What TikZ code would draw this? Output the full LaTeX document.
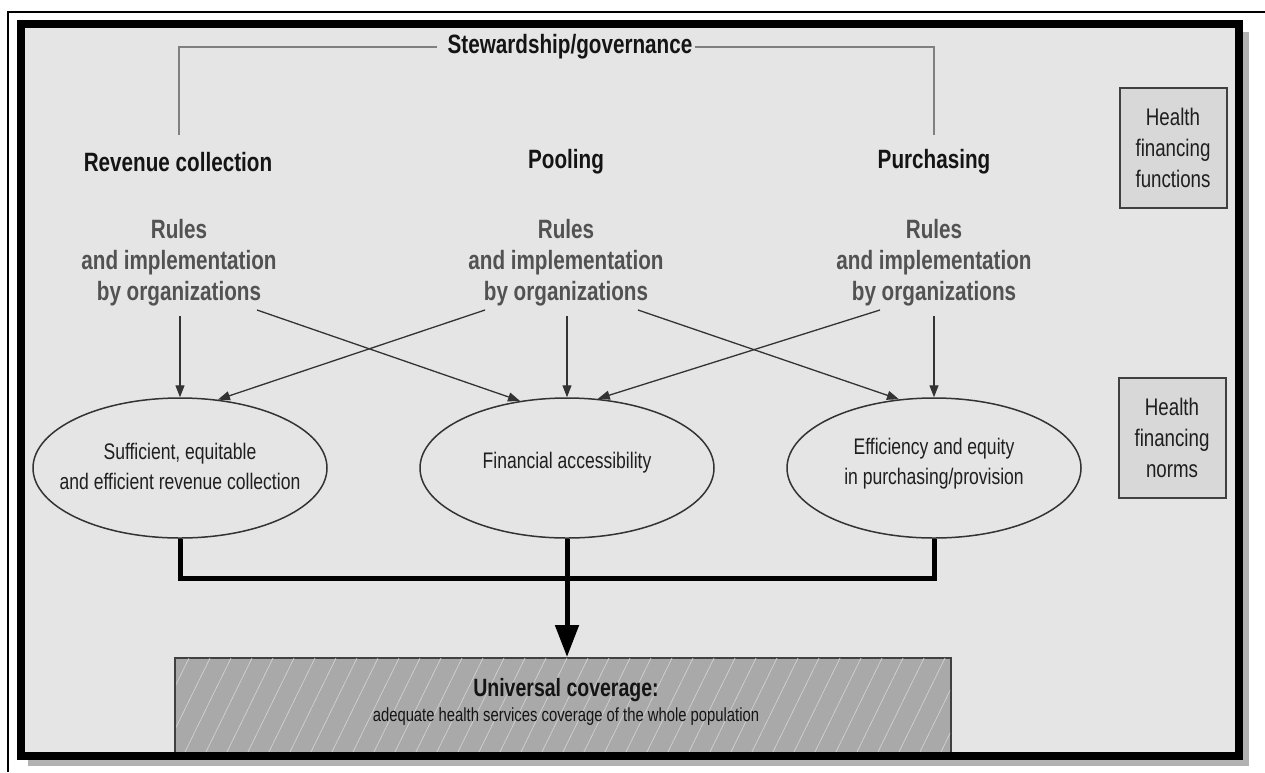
\documentclass[tikz,border=0pt]{standalone}
\usepackage{fontspec}
\setmainfont{Liberation Sans}[FakeStretch=0.78]
\usetikzlibrary{shapes.geometric,arrows.meta}
\definecolor{bgc}{HTML}{E5E5E5}
\definecolor{boxc}{HTML}{D8D8D8}
\definecolor{ucc}{HTML}{A9A9A9}
\tikzset{
  head/.style={font=\fontsize{26.5}{31}\selectfont\bfseries, text=black!92, inner sep=2pt},
  rules/.style={font=\fontsize{26.5}{31}\selectfont\bfseries, text=black!68, align=center},
  oval/.style={ellipse, draw=black!80, line width=1.5pt, minimum width=294pt, minimum height=140pt, inner sep=0pt},
  otext/.style={font=\fontsize{22.5}{30}\selectfont, align=center, text=black!88},
  side/.style={draw=black!75, line width=2pt, fill=boxc, minimum width=107pt, minimum height=120pt, align=center, font=\fontsize{24}{31}\selectfont, text=black!88, inner sep=0pt},
  thinarrow/.style={draw=black!80, line width=1.3pt, -{Triangle[length=12pt,width=9pt]}},
  thickline/.style={draw=black, line width=5pt},
  stewline/.style={draw=black!50, line width=2.5pt},
  ucbox/.style={draw=black!75, line width=2pt, fill=ucc, minimum width=776pt, minimum height=100pt, inner sep=0pt}
}
\begin{document}
\begin{tikzpicture}[x=1pt,y=-1pt]
\useasboundingbox (0,0) rectangle (1265,772);
\fill[white] (0,0) rectangle (1265,772);
% outer thin lines
\draw[black, line width=1.5pt] (8,772) -- (8,12) -- (1265,12);
% frame shadow
\draw[line width=6pt, black!30] (1246,32) -- (1246,763) -- (28,763);
% background
\fill[bgc] (21,24) rectangle (1239,756);

% stewardship
\node[head] (stew) at (566,47) {\hspace{8pt}Stewardship/governance\hspace{8pt}};
\coordinate (sl) at (179,135);
\coordinate (sr) at (934,135);
\draw[stewline] (stew.west) -| (sl);
\draw[stewline] (stew.east) -| (sr);

% headings
\node[head] (hrev) at (178,162) {Revenue collection};
\node[head] (hpool) at (566,162) {Pooling};
\node[head] (hpur) at (934,162) {Purchasing};

% rules
\node[rules] (rrev) at (179,263) {Rules\\and implementation\\by organizations};
\node[rules] (rpool) at (566,263) {Rules\\and implementation\\by organizations};
\node[rules] (rpur) at (934,263) {Rules\\and implementation\\by organizations};

% side boxes
\node[side] (hff) at (1173,148) {Health\\financing\\functions};
\node[side] (hfn) at (1172,438) {Health\\financing\\norms};

% ellipses
\node[oval] (rev) at (180,468) {};
\node[oval] (pool) at (567,468) {};
\node[oval] (pur) at (934,468) {};
\node[otext] (trev) at (180,466) {Sufficient, equitable\\and efficient revenue collection};
\node[otext] (tpool) at (567,463) {Financial accessibility};
\node[otext] (tpur) at (934,464) {Efficiency and equity\\in purchasing/provision};

% arrow starts
\coordinate (v1) at (180,316);
\coordinate (v2) at (567,316);
\coordinate (v3) at (934,316);
\coordinate (d1) at (257,310);
\coordinate (d2) at (485,310);
\coordinate (d3) at (638,310);
\coordinate (d4) at (880,310);

\draw[thinarrow] (v1) -- (rev.north);
\draw[thinarrow] (v2) -- (pool.north);
\draw[thinarrow] (v3) -- (pur.north);
\draw[thinarrow] (d1) -- (pool.125);
\draw[thinarrow] (d2) -- (rev.61);
\draw[thinarrow] (d3) -- (pur.117);
\draw[thinarrow] (d4) -- (pool.66);

% universal coverage box
\node[ucbox, anchor=north] (uc) at (563,657) {};
\begin{scope}
\clip (176,658) rectangle (950,756);
\foreach \i in {0,...,40}
  \draw[black!16, line width=0.6pt] ({140+\i*21},758) -- ++(50,-102);
\end{scope}
\node[font=\fontsize{25}{30}\selectfont\bfseries, text=black!92] (uct1) at (566,690) {Universal coverage:};
\node[font=\fontsize{19}{24}\selectfont, text=black!92] (uct2) at (566,717) {adequate health services coverage of the whole population};

% thick connectors
\draw[thickline] (rev.south) -- ++(0,40) -| (pur.south);
\draw[thickline, -{Triangle[length=32pt,width=23pt]}] (pool.south) -- (pool.south |- uc.north);

% frame
\draw[black, line width=8pt] (21,24) rectangle (1239,756);
\end{tikzpicture}
\end{document}
